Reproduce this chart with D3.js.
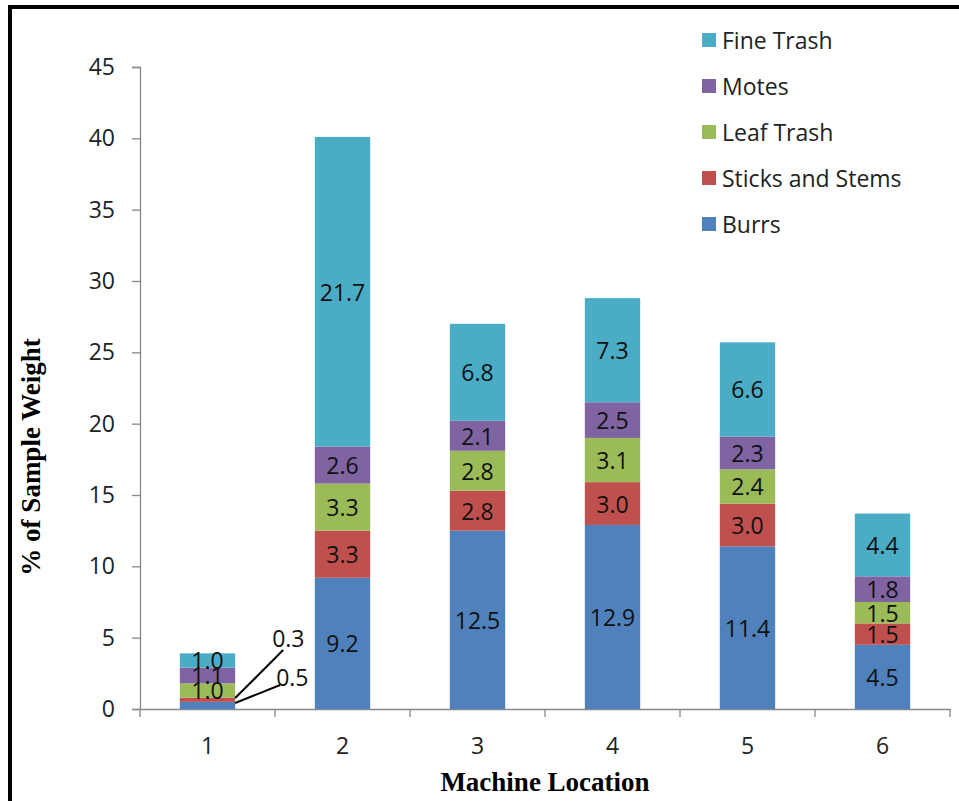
<!DOCTYPE html>
<html><head><meta charset="utf-8">
<script src="https://cdn.jsdelivr.net/npm/d3@7"></script>
<style>body{margin:0;background:#fff}svg{display:block}</style>
</head><body>
<script>
const categories = ["1","2","3","4","5","6"];
const seriesNames = ["Burrs","Sticks and Stems","Leaf Trash","Motes","Fine Trash"];
const burrs = [0.5, 9.2, 12.5, 12.9, 11.4, 4.5];
const sticks = [0.3, 3.3, 2.8, 3.0, 3.0, 1.5];
const leaf = [1.0, 3.3, 2.8, 3.1, 2.4, 1.5];
const motes = [1.1, 2.6, 2.1, 2.5, 2.3, 1.8];
const fine = [1.0, 21.7, 6.8, 7.3, 6.6, 4.4];
const yTicks = [0,5,10,15,20,25,30,35,40,45];
const colors = ["#4F81BD","#C0504D","#9BBB59","#8064A2","#4BACC6"];

(function(){
const W = 959, H = 801;
const svg = d3.select("body").append("svg").attr("width", W).attr("height", H);
svg.append("rect").attr("width", W).attr("height", H).attr("fill", "#fff");
svg.append("path").attr("d", `M10,${H} V7 H${W}`).attr("fill","none").attr("stroke","#000").attr("stroke-width",4);

const mL = 140, mR = 950, mT = 67, mB = 709;
const x = d3.scaleBand().domain(categories).range([mL, mR]).paddingInner(0.59).paddingOuter(0.295);
const y = d3.scaleLinear().domain([0,45]).range([mB, mT]);

const table = categories.map((c,i) => ({cat:c, "Burrs":burrs[i], "Sticks and Stems":sticks[i], "Leaf Trash":leaf[i], "Motes":motes[i], "Fine Trash":fine[i]}));
const stacked = d3.stack().keys(seriesNames)(table);

const font = "'Open Sans', 'Noto Sans', sans-serif";
const fs = 23;

const yAxis = svg.append("g").attr("transform", `translate(${mL},0)`)
  .call(d3.axisLeft(y).tickValues(yTicks).tickSize(8).tickPadding(17));
yAxis.select(".domain").attr("stroke","#888").attr("stroke-width",1.3);
yAxis.selectAll(".tick line").attr("stroke","#888").attr("stroke-width",1.3);
yAxis.selectAll("text").attr("font-family", font).attr("font-size", fs).attr("fill","#222");

const xAxis = svg.append("g").attr("transform", `translate(0,${mB})`)
  .call(d3.axisBottom(x).tickSize(0).tickPadding(29));
xAxis.select(".domain").attr("stroke","#888").attr("stroke-width",1.3);
xAxis.selectAll("text").attr("font-family", font).attr("font-size", fs).attr("fill","#222");
const step = x.step();
const bounds = d3.range(categories.length + 1).map(i => mL + i*step);
svg.append("g").selectAll("line").data(bounds).join("line")
  .attr("x1", d=>d).attr("x2", d=>d).attr("y1", mB).attr("y2", mB+8)
  .attr("stroke","#888").attr("stroke-width",1.3);

const groups = svg.append("g").selectAll("g").data(stacked).join("g")
  .attr("fill", (d,i) => colors[i]);
groups.selectAll("rect").data(d => d).join("rect")
  .attr("x", d => x(d.data.cat))
  .attr("width", x.bandwidth())
  .attr("y", d => y(d[1]))
  .attr("height", d => y(d[0]) - y(d[1]));

const labels = svg.append("g");
// callouts for the small segments of bar 1: [line start y(value), line end dx, line end y(value), text dx, text y(value)]
const callouts = {0: [0.42, 45, 1.68, 41, 2.24], 1: [0.77, 48, 4.13, 37, 4.98]};
stacked.forEach((s, si) => {
  s.forEach((d, ci) => {
    const v = d[1]-d[0];
    const bx = x(d.data.cat), bw = x.bandwidth();
    if (ci === 0 && callouts[si]) {
      const c = callouts[si];
      labels.append("line").attr("x1", bx + bw).attr("y1", y(c[0]))
        .attr("x2", bx + bw + c[1]).attr("y2", y(c[2])).attr("stroke","#000").attr("stroke-width",2);
      labels.append("text").attr("x", bx + bw + c[3]).attr("y", y(c[4]))
        .attr("dominant-baseline","central")
        .attr("font-family", font).attr("font-size", fs).attr("fill","#111").text(v.toFixed(1));
      return;
    }
    labels.append("text").attr("x", bx + bw/2).attr("y", (y(d[0]) + y(d[1]))/2)
      .attr("text-anchor","middle").attr("dominant-baseline","central")
      .attr("font-family", font).attr("font-size", fs).attr("fill","#111").text(v.toFixed(1));
  });
});

const legendOrder = seriesNames.slice().reverse();
const lg = svg.append("g");
legendOrder.forEach((n, i) => {
  const yy = 40 + i*46;
  lg.append("rect").attr("x", 702).attr("y", yy-7).attr("width", 14).attr("height", 14).attr("fill", colors[seriesNames.indexOf(n)]);
  lg.append("text").attr("x", 722).attr("y", yy).attr("dominant-baseline","central")
    .attr("font-family", font).attr("font-size", fs).attr("fill","#222").text(n);
});

svg.append("text").attr("x", 545).attr("y", 791).attr("text-anchor","middle")
  .attr("font-family","'Liberation Serif', serif").attr("font-weight","bold").attr("font-size", 27)
  .attr("fill","#000").text("Machine Location");
svg.append("text").attr("transform", "translate(40,457) rotate(-90)").attr("text-anchor","middle")
  .attr("font-family","'Liberation Serif', serif").attr("font-weight","bold").attr("font-size", 27)
  .attr("fill","#000").text("% of Sample Weight");
})();
</script>
</body></html>
